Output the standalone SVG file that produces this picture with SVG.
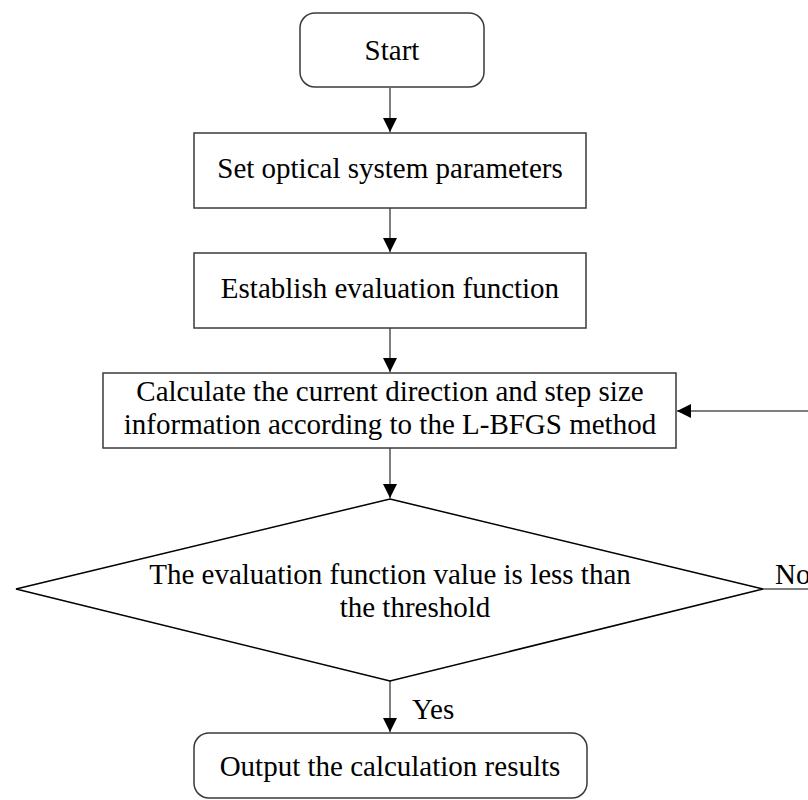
<svg xmlns="http://www.w3.org/2000/svg" width="808" height="800" viewBox="0 0 808 800">
<defs>
<style>
.box{fill:#fff;stroke:#3a3a3a;stroke-width:1.5}
.dia{fill:#fff;stroke:#000;stroke-width:1.5}
.t{font-family:"Liberation Serif","Times New Roman",serif;font-size:29px;fill:#000;text-anchor:middle}
.lbl{font-family:"Liberation Serif","Times New Roman",serif;font-size:29px;fill:#000}
.c{fill:none;stroke:#555;stroke-width:1.5}
.c2{fill:none;stroke:#000;stroke-width:1.2}
</style>
<marker id="ah" viewBox="0 0 14 14" refX="14" refY="7" markerWidth="14" markerHeight="14" markerUnits="userSpaceOnUse" orient="auto">
<path d="M0,0 L14,7 L0,14 Z" fill="#000"/>
</marker>
</defs>
<g id="connectors">
<line class="c" x1="390" y1="88" x2="390" y2="132" marker-end="url(#ah)"/>
<line class="c" x1="390" y1="208" x2="390" y2="252" marker-end="url(#ah)"/>
<line class="c" x1="390" y1="328" x2="390" y2="372" marker-end="url(#ah)"/>
<line class="c" x1="390" y1="448" x2="390" y2="498" marker-end="url(#ah)"/>
<line class="c" x1="390" y1="681" x2="390" y2="732" marker-end="url(#ah)"/>
<polyline class="c2" points="763,589 820,589"/>
<line class="c2" x1="820" y1="411" x2="677" y2="411" marker-end="url(#ah)"/>
<text class="lbl" x="412" y="719">Yes</text>
<text class="lbl" x="775" y="584">No</text>
</g>
<g id="start">
<rect class="box" x="300" y="13" width="184" height="74" rx="15"/>
<text class="t" x="392" y="60">Start</text>
</g>
<g id="set">
<rect class="box" x="194" y="133" width="392" height="75"/>
<text class="t" x="390" y="178">Set optical system parameters</text>
</g>
<g id="establish">
<rect class="box" x="194" y="253" width="392" height="75"/>
<text class="t" x="390" y="298">Establish evaluation function</text>
</g>
<g id="calculate">
<rect class="box" x="103" y="373" width="573" height="75"/>
<text class="t" x="390" y="401">Calculate the current direction and step size</text>
<text class="t" x="390" y="434">information according to the L-BFGS method</text>
</g>
<g id="decision">
<polygon class="dia" points="390,499 763,589 390,681 16,589"/>
<text class="t" x="390" y="584">The evaluation function value is less than</text>
<text class="t" x="415" y="617">the threshold</text>
</g>
<g id="output">
<rect class="box" x="194" y="733" width="393" height="65" rx="15"/>
<text class="t" x="390" y="776">Output the calculation results</text>
</g>
</svg>
